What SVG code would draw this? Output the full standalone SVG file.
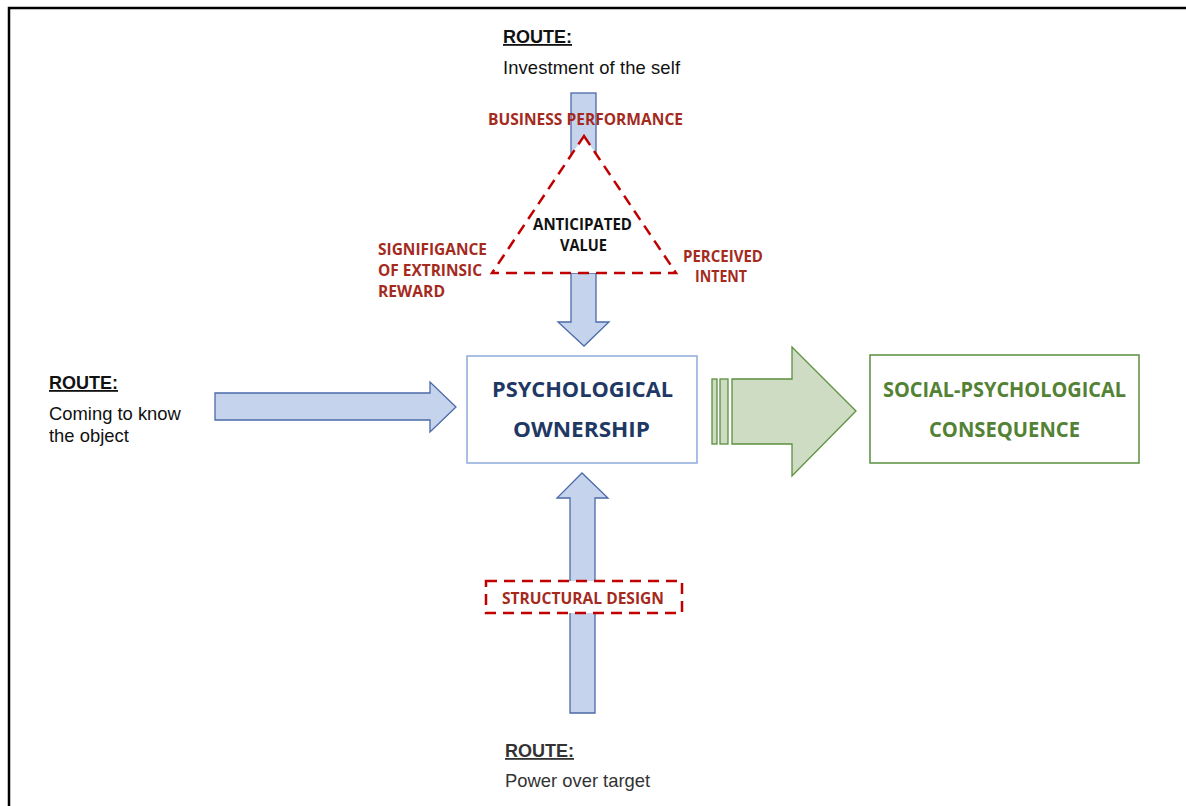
<svg xmlns="http://www.w3.org/2000/svg" width="1186" height="806" viewBox="0 0 1186 806">
<style>
.route{font-family:"Liberation Sans",Arial,sans-serif;font-size:18px;font-weight:bold;text-decoration:underline;fill:#111}
.desc{font-family:"Liberation Sans",Arial,sans-serif;font-size:18.4px;fill:#111}
.red{font-family:"Open Sans","Noto Sans",sans-serif;font-size:15.5px;font-weight:bold;fill:#a52a1e}
.blk{font-family:"Open Sans","Noto Sans",sans-serif;font-size:15.5px;font-weight:bold;fill:#111}
.main{font-family:"Open Sans","Noto Sans",sans-serif;font-size:21px;font-weight:bold}
.barrow{fill:#c5d4ec;stroke:#4a6aa8;stroke-width:1.3}
.garrow{fill:#cddcc3;stroke:#5a8f3c;stroke-width:1.3}
.dash{fill:#fff;stroke:#c00000;stroke-width:2.5;stroke-dasharray:11 7}
</style>
<rect width="1186" height="806" fill="#fff"/>
<path d="M9,806 V8 H1186" fill="none" stroke="#000" stroke-width="2.5"/>

<g id="connectors">
  <rect id="top-stub" class="barrow" x="571" y="93" width="25" height="110"/>
  <path id="arrow-down" class="barrow" d="M571,273 H596 V322 H609 L584,346 L558,322 H571 Z"/>
  <path id="arrow-left" class="barrow" d="M215,393 H430 V382 L456,407 L430,432 V420 H215 Z"/>
  <path id="arrow-up" class="barrow" d="M570,713 V498 H557 L582,473 L608,498 H595 V713 Z"/>
  <g id="arrow-green">
    <rect class="garrow" x="712" y="379" width="5" height="65"/>
    <rect class="garrow" x="720" y="379" width="8" height="65"/>
    <path class="garrow" d="M732,379 H792 V347 L856,411 L792,476 V444 H732 Z"/>
  </g>
</g>

<g id="route-top">
  <text class="route" x="503" y="43">ROUTE:</text>
  <text class="desc" x="503" y="74" textLength="177">Investment of the self</text>
</g>
<g id="route-left">
  <text class="route" x="49" y="389">ROUTE:</text>
  <text class="desc" x="49" y="420">Coming to know</text>
  <text class="desc" x="49" y="442">the object</text>
</g>
<g id="route-bottom">
  <text class="route" x="505" y="757" style="fill:#333">ROUTE:</text>
  <text class="desc" x="505" y="787" style="fill:#333">Power over target</text>
</g>

<g id="anticipated-value">
  <polygon class="dash" points="584,136 676,273 492,273"/>
  <text class="blk" x="533" y="230" textLength="99" lengthAdjust="spacingAndGlyphs">ANTICIPATED</text>
  <text class="blk" x="560" y="251" textLength="47" lengthAdjust="spacingAndGlyphs">VALUE</text>
</g>
<g id="business-performance">
  <text class="red" x="488" y="125" textLength="195" lengthAdjust="spacingAndGlyphs">BUSINESS PERFORMANCE</text>
</g>
<g id="significance">
  <text class="red" x="378" y="255" textLength="109" lengthAdjust="spacingAndGlyphs">SIGNIFIGANCE</text>
  <text class="red" x="378" y="276" textLength="104" lengthAdjust="spacingAndGlyphs">OF EXTRINSIC</text>
  <text class="red" x="378" y="297" textLength="67" lengthAdjust="spacingAndGlyphs">REWARD</text>
</g>
<g id="perceived-intent">
  <text class="red" x="683" y="262" textLength="80" lengthAdjust="spacingAndGlyphs">PERCEIVED</text>
  <text class="red" x="695" y="282" textLength="52" lengthAdjust="spacingAndGlyphs">INTENT</text>
</g>

<g id="structural-design">
  <rect class="dash" x="486" y="581" width="196" height="32"/>
  <text class="red" x="502" y="604" textLength="162" lengthAdjust="spacingAndGlyphs">STRUCTURAL DESIGN</text>
</g>

<g id="psychological-ownership">
  <rect x="467" y="356" width="230" height="107" fill="#fff" stroke="#8eaadb" stroke-width="1.5"/>
  <text class="main" x="492" y="397" fill="#1f3864" textLength="181" lengthAdjust="spacingAndGlyphs">PSYCHOLOGICAL</text>
  <text class="main" x="513" y="437" fill="#1f3864" textLength="137" lengthAdjust="spacingAndGlyphs">OWNERSHIP</text>
</g>

<g id="social-psychological-consequence">
  <rect x="870" y="355" width="269" height="108" fill="#fff" stroke="#5a8f3c" stroke-width="1.5"/>
  <text class="main" x="883" y="397" fill="#548235" textLength="243" lengthAdjust="spacingAndGlyphs">SOCIAL-PSYCHOLOGICAL</text>
  <text class="main" x="929" y="437" fill="#548235" textLength="151" lengthAdjust="spacingAndGlyphs">CONSEQUENCE</text>
</g>
</svg>
